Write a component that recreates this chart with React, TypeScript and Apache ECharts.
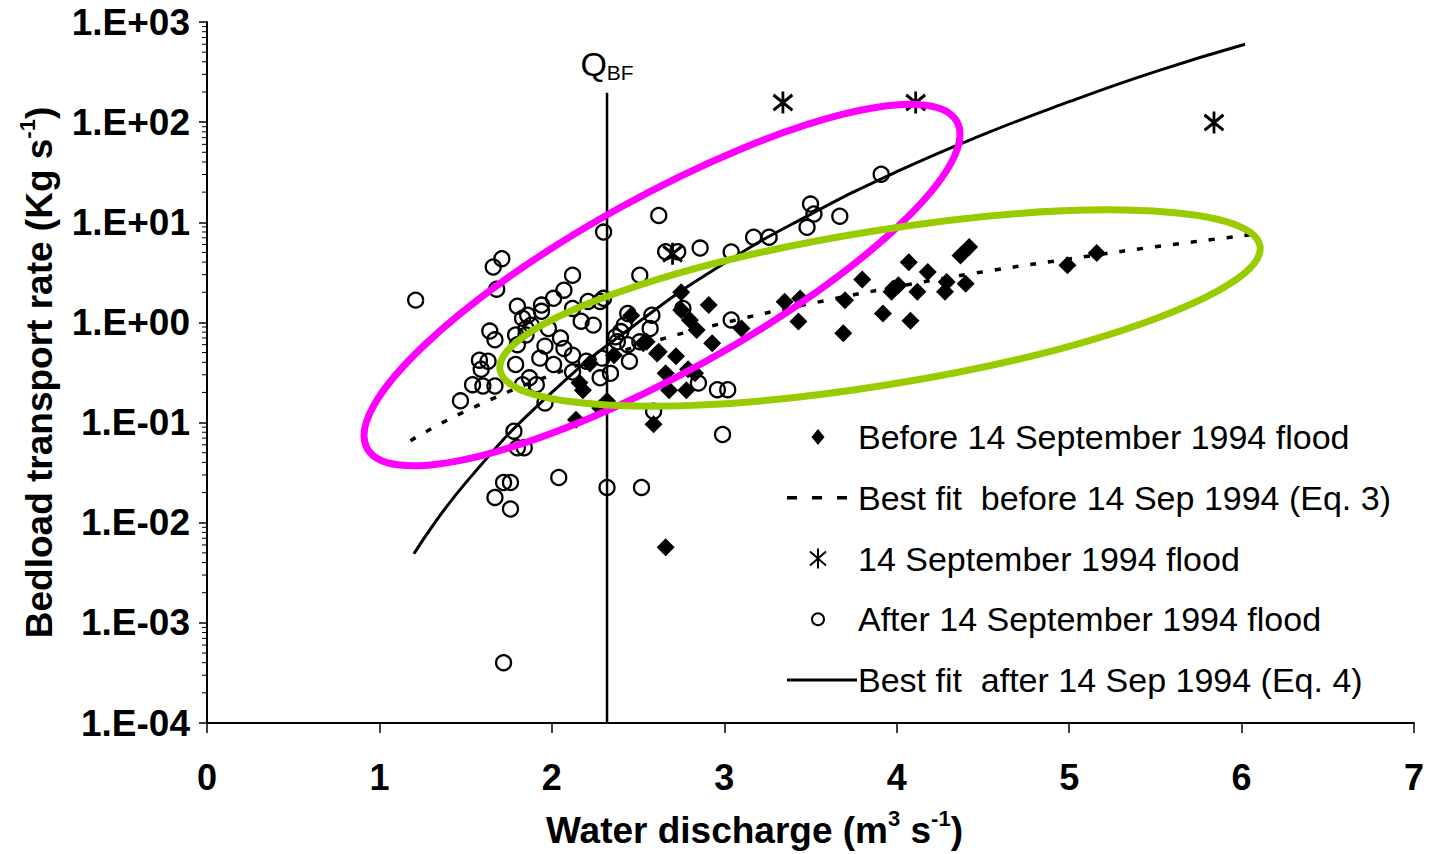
import React, { useEffect, useRef } from "react";
import * as echarts from "echarts";

// ---- data ----
const beforeFlood: number[][] = [
  [2.46, 1.17], [2.16, 0.25], [2.18, 0.21], [2.28, 0.14], [2.14, 0.107], [2.36, 0.47],
  [2.53, 0.62], [2.61, 0.49], [2.59, 0.096], [2.75, 2.0], [2.91, 1.49], [2.75, 1.33],
  [2.8, 1.06], [2.84, 0.84], [2.93, 0.62], [2.62, 0.51], [2.72, 0.46], [2.66, 0.31],
  [2.79, 0.34], [2.83, 0.31], [2.68, 0.21], [2.78, 0.21], [3.1, 0.87], [3.35, 1.61],
  [3.44, 1.73], [3.43, 1.02], [3.7, 1.67], [3.69, 0.78], [3.8, 2.68], [3.92, 1.23],
  [3.98, 2.18], [2.32, 0.164], [4.07, 4.0], [4.18, 3.19], [4.01, 2.35], [3.97, 2.02],
  [4.12, 2.02], [4.08, 1.04], [4.29, 2.54], [4.28, 2.02], [4.4, 2.44], [4.37, 4.67],
  [4.42, 5.66], [4.99, 3.72], [5.16, 4.93], [2.66, 0.0057], [2.55, 0.64], [2.22, 0.39],
];

const sep14Flood: number[][] = [
  [2.7, 4.85], [3.34, 157], [4.11, 157], [5.84, 99],
];

const afterFlood: number[][] = [
  [1.21, 1.67], [1.66, 3.58], [1.71, 4.33], [1.68, 2.15], [1.8, 1.45], [1.83, 1.1],
  [1.64, 0.82], [1.67, 0.67], [1.58, 0.42], [1.59, 0.34], [1.63, 0.41], [1.54, 0.239],
  [1.6, 0.232], [1.67, 0.232], [1.47, 0.165], [1.79, 0.75], [1.8, 0.6], [1.85, 0.87],
  [1.79, 0.38], [1.83, 0.239], [2.12, 2.96], [2.07, 2.1], [1.94, 1.49], [1.94, 1.29],
  [2.01, 1.74], [2.12, 1.38], [2.21, 1.62], [2.28, 1.62], [2.24, 0.94], [2.17, 1.03],
  [1.86, 1.18], [1.88, 0.94], [1.85, 0.75], [1.98, 0.87], [1.93, 0.44], [2.01, 0.38],
  [2.07, 0.55], [2.12, 0.47], [1.87, 0.28], [1.91, 0.239], [2.12, 0.32], [2.2, 0.41],
  [2.29, 0.44], [2.38, 0.64], [2.4, 0.81], [2.45, 0.41], [2.51, 0.64], [2.57, 0.87],
  [2.58, 1.18], [2.51, 2.96], [2.62, 11.7], [2.86, 5.53], [3.04, 5.05], [3.17, 7.1],
  [3.26, 7.1], [3.48, 8.9], [3.5, 15.2], [3.52, 12.1], [3.67, 11.5], [3.91, 30.2],
  [2.66, 5.08], [2.73, 5.08], [2.3, 7.98], [3.04, 1.06], [2.99, 0.076], [2.59, 0.13],
  [2.96, 0.213], [3.02, 0.213], [2.85, 0.248], [2.44, 1.23], [2.42, 0.94], [2.44, 0.6],
  [2.37, 0.72], [2.76, 1.38], [2.3, 1.74], [1.96, 0.157], [1.8, 0.056], [1.84, 0.056],
  [1.78, 0.082], [1.72, 0.0252], [1.76, 0.0252], [1.67, 0.0179], [1.76, 0.0137],
  [2.04, 0.0283], [2.32, 0.0225], [2.52, 0.0225], [1.72, 0.0004], [2.05, 0.7],
  [1.96, 0.58], [2.28, 0.28], [2.34, 0.31],
];

const fitBefore: number[][] = [
  [1.18, 0.066], [1.5, 0.13], [2.0, 0.3], [2.5, 0.58], [3.0, 0.99], [3.5, 1.54],
  [4.0, 2.27], [4.5, 3.2], [5.0, 4.3], [5.5, 5.7], [6.08, 7.6],
];

const fitAfter: number[][] = [
  [1.2, 0.0049], [1.5, 0.025], [2.0, 0.2], [2.5, 1.0], [3.0, 3.9], [3.5, 12],
  [4.0, 32], [4.5, 75], [5.0, 160], [5.5, 320], [6.02, 600],
];

const qbfLine: number[][] = [[2.32, 0.0001], [2.32, 197]];

const yDecades = [1e-4, 1e-3, 1e-2, 1e-1, 1, 10, 100];
const minorMultipliers = [2, 3, 4, 5, 6, 7, 8, 9];

const seriesNames = [
  "Before 14 September 1994 flood",
  "Best fit  before 14 Sep 1994 (Eq. 3)",
  "14 September 1994 flood",
  "After 14 September 1994 flood",
  "Best fit  after 14 Sep 1994 (Eq. 4)",
];

const FONT = "'Liberation Sans', Arial, Helvetica, sans-serif";

export default function App() {
  const ref = useRef<HTMLDivElement>(null);

  useEffect(() => {
    if (!ref.current) return;
    const chart = echarts.init(ref.current, undefined, { renderer: "svg" });

    const minorTicks: number[][] = [];
    yDecades.forEach((d) => minorMultipliers.forEach((m) => minorTicks.push([0, d * m])));

    // legend (drawn as graphics)
    const lgX = 818;
    const lgTextX = 858;
    const lgY0 = 437;
    const lgStep = 60.75;
    const legendIcons: any[] = [
      {
        type: "polygon",
        shape: { points: [[lgX, lgY0 - 8], [lgX + 6.5, lgY0], [lgX, lgY0 + 8], [lgX - 6.5, lgY0]] },
        style: { fill: "#000" },
      },
      {
        type: "line",
        shape: { x1: 787, y1: lgY0 + lgStep, x2: 850, y2: lgY0 + lgStep },
        style: { stroke: "#000", lineWidth: 3.5, lineDash: [10, 15] },
      },
      {
        type: "group",
        children: [
          { type: "line", shape: { x1: lgX, y1: lgY0 + 2 * lgStep - 10, x2: lgX, y2: lgY0 + 2 * lgStep + 10 }, style: { stroke: "#000", lineWidth: 2 } },
          { type: "line", shape: { x1: lgX - 8, y1: lgY0 + 2 * lgStep - 7, x2: lgX + 8, y2: lgY0 + 2 * lgStep + 7 }, style: { stroke: "#000", lineWidth: 2 } },
          { type: "line", shape: { x1: lgX - 8, y1: lgY0 + 2 * lgStep + 7, x2: lgX + 8, y2: lgY0 + 2 * lgStep - 7 }, style: { stroke: "#000", lineWidth: 2 } },
        ],
      },
      {
        type: "circle",
        shape: { cx: lgX, cy: lgY0 + 3 * lgStep, r: 6 },
        style: { fill: "none", stroke: "#000", lineWidth: 2 },
      },
      {
        type: "line",
        shape: { x1: 787, y1: lgY0 + 4 * lgStep, x2: 857, y2: lgY0 + 4 * lgStep },
        style: { stroke: "#000", lineWidth: 3 },
      },
    ];
    const legendTexts = seriesNames.map((n, i) => ({
      type: "text",
      x: lgTextX,
      y: lgY0 + i * lgStep,
      style: { text: n, fill: "#000", fontSize: 34, fontFamily: FONT, verticalAlign: "middle", align: "left" },
    }));

    const axisNameRich = {
      t: { fontSize: 37, fontWeight: "bold", fontFamily: FONT, color: "#000", lineHeight: 42, verticalAlign: "bottom" },
      s: { fontSize: 22, fontWeight: "bold", fontFamily: FONT, color: "#000", lineHeight: 25, verticalAlign: "top" },
    };

    const option: any = {
      animation: false,
      backgroundColor: "#fff",
      grid: { left: 207, right: 15, top: 22, bottom: 127 },
      xAxis: {
        type: "value",
        min: 0,
        max: 7,
        interval: 1,
        splitLine: { show: false },
        axisLine: { lineStyle: { color: "#000", width: 2 } },
        axisTick: { length: 10, lineStyle: { color: "#000", width: 1.5 } },
        axisLabel: { color: "#000", fontSize: 36, fontWeight: "bold", fontFamily: FONT, margin: 36 },
        name: "{t|Water discharge (m}{s|3}{t| s}{s|-1}{t|)}",
        nameLocation: "middle",
        nameGap: 84,
        nameTextStyle: { rich: axisNameRich, padding: [0, 112, 0, 0] },
      },
      yAxis: {
        type: "log",
        logBase: 10,
        min: 0.0001,
        max: 1000,
        splitNumber: 7,
        splitLine: { show: false },
        axisLine: { show: true, lineStyle: { color: "#000", width: 2 } },
        axisTick: { show: true, length: 8, lineStyle: { color: "#000", width: 1.5 } },
        axisLabel: {
          color: "#000",
          fontSize: 37,
          fontWeight: "bold",
          fontFamily: FONT,
          margin: 17,
          formatter: (v: number) => {
            const e = Math.round(Math.log10(v));
            return "1.E" + (e < 0 ? "-" : "+") + String(Math.abs(e)).padStart(2, "0");
          },
        },
        name: "{t|Bedload transport rate (Kg s}{s|-1}{t|)}",
        nameLocation: "middle",
        nameGap: 149,
        nameRotate: 90,
        nameTextStyle: { rich: axisNameRich, padding: [0, 0, 0, 0] },
      },
      series: [
        {
          name: "minorTicks",
          type: "custom",
          clip: false,
          silent: true,
          data: minorTicks,
          renderItem: (_p: any, api: any) => {
            const pt = api.coord([0, api.value(1)]);
            return {
              type: "line",
              shape: { x1: pt[0] - 5, y1: pt[1], x2: pt[0], y2: pt[1] },
              style: { stroke: "#000", lineWidth: 1 },
            };
          },
        },
        {
          name: "QBF",
          type: "line",
          data: [
            qbfLine[0],
            {
              value: qbfLine[1],
              label: {
                show: true,
                position: "top",
                distance: 10,
                formatter: "{q|Q}{b|BF}",
                rich: {
                  q: { fontSize: 34, fontFamily: FONT, color: "#000", lineHeight: 36, verticalAlign: "top" },
                  b: { fontSize: 21, fontFamily: FONT, color: "#000", lineHeight: 22, verticalAlign: "bottom" },
                },
              },
            },
          ],
          symbol: "circle",
          symbolSize: 0,
          showSymbol: true,
          lineStyle: { color: "#000", width: 2.5 },
          itemStyle: { color: "#000" },
          z: 3,
        },
        {
          name: seriesNames[3],
          type: "scatter",
          data: afterFlood,
          symbol: "circle",
          symbolSize: 15,
          itemStyle: { color: "rgba(0,0,0,0)", borderColor: "#000", borderWidth: 2.3, opacity: 1 },
          z: 4,
        },
        {
          name: seriesNames[0],
          type: "scatter",
          data: beforeFlood,
          symbol: "diamond",
          symbolSize: 18,
          itemStyle: { color: "#000", opacity: 1 },
          z: 5,
        },
        {
          name: seriesNames[2],
          type: "scatter",
          data: sep14Flood,
          symbol: "path://M10,0L10,20M1,3L19,17M1,17L19,3",
          symbolSize: [19, 22],
          itemStyle: { color: "#000", borderColor: "#000", borderWidth: 3, opacity: 1 },
          z: 5,
        },
        {
          name: seriesNames[1],
          type: "line",
          data: fitBefore,
          smooth: true,
          showSymbol: false,
          symbol: "none",
          lineStyle: { color: "#000", width: 3.5, type: [6, 12] },
          itemStyle: { color: "#000" },
          z: 6,
        },
        {
          name: seriesNames[4],
          type: "line",
          data: fitAfter,
          smooth: true,
          showSymbol: false,
          symbol: "none",
          lineStyle: { color: "#000", width: 3 },
          itemStyle: { color: "#000" },
          z: 6,
        },
      ],
      graphic: [
        {
          type: "ellipse",
          x: 662,
          y: 285,
          rotation: (29 * Math.PI) / 180,
          shape: { cx: 0, cy: 0, rx: 337, ry: 88 },
          style: { fill: "none", stroke: "#ff00ff", lineWidth: 7 },
          silent: true,
          z: 100,
        },
        {
          type: "ellipse",
          x: 880,
          y: 308,
          rotation: (9.25 * Math.PI) / 180,
          shape: { cx: 0, cy: 0, rx: 385, ry: 77 },
          style: { fill: "none", stroke: "#99cc00", lineWidth: 7 },
          silent: true,
          z: 100,
        },
        {
          type: "group",
          silent: true,
          z: 90,
          children: [...legendIcons, ...legendTexts],
        },
      ],
    };

    chart.setOption(option);
    return () => chart.dispose();
  }, []);

  return (
    <div
      ref={ref}
      style={{ position: "absolute", left: 0, top: 0, width: 1429, height: 854, background: "#fff" }}
    />
  );
}
